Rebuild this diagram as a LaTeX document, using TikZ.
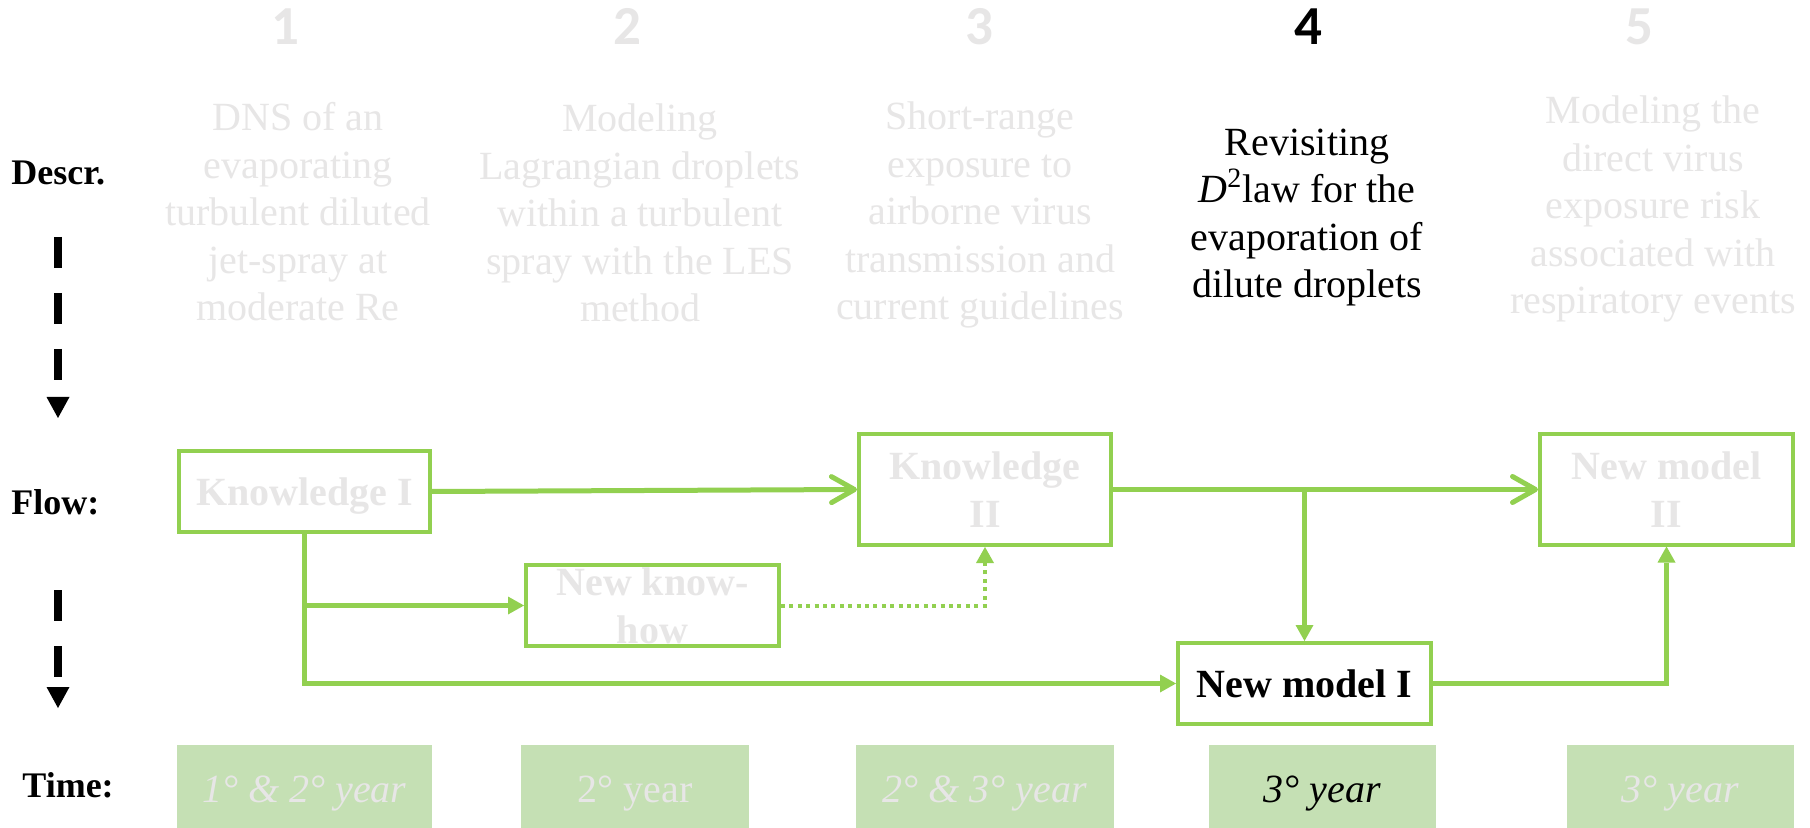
\documentclass[tikz,border=0pt]{standalone}
\usepackage{fontspec}
\setmainfont{Liberation Serif}
\newfontfamily\numfont{Carlito}
\usetikzlibrary{arrows.meta}
\definecolor{flowgreen}{HTML}{92D050}
\definecolor{timefill}{HTML}{C5E0B4}
\definecolor{faded}{HTML}{E7E6E6}

\tikzset{
  flowbox/.style={draw=flowgreen, line width=2pt, fill=white, inner sep=0pt, align=center,
    font=\bfseries\fontsize{20}{24}\selectfont, text=faded},
  timebox/.style={fill=timefill, inner sep=0pt, minimum height=41.5pt,
    text height=16pt, text depth=0pt,
    font=\fontsize{20}{24}\selectfont, text=faded},
  % multi-line blocks sit on the baseline of their last line
  desc/.style={align=center, anchor=base, inner sep=0pt,
    font=\fontsize{20}{23.75}\selectfont, text=faded},
  stepnum/.style={anchor=base, inner sep=0pt,
    font=\numfont\bfseries\fontsize{27.5}{30}\selectfont, text=faded},
  rowlabel/.style={anchor=base west, inner sep=0pt,
    font=\bfseries\fontsize{18}{20}\selectfont},
  link/.style={draw=flowgreen, line width=2.25pt,
    -{Triangle[length=8pt,width=9pt,line width=0pt]}},
  mainlink/.style={draw=flowgreen, line width=2.5pt, line cap=round,
    -{Straight Barb[length=11.5pt,width=13pt,line cap=round,line join=round]}},
  hintlink/.style={draw=flowgreen, line width=2pt, dash pattern=on 2pt off 2.2pt,
    -{Triangle[length=8pt,width=9pt,line width=0pt]}},
  timeline/.style={draw=black, line width=4pt, dash pattern=on 15.5pt off 12.5pt,
    -{Triangle[length=10.5pt,width=11.5pt,line width=0pt]}},
}

\begin{document}
\begin{tikzpicture}[x=0.5pt, y=-0.5pt]
  \useasboundingbox (0,0) rectangle (1810,828);
  \fill[white] (0,0) rectangle (1810,828);

  % step numbers
  \node[stepnum] (n1) at (285,45) {1};
  \node[stepnum] (n2) at (627,45) {2};
  \node[stepnum] (n3) at (979,45) {3};
  \node[stepnum, text=black] (n4) at (1308,45) {4};
  \node[stepnum] (n5) at (1639,45) {5};

  % row labels
  \node[rowlabel] (ldescr) at (11,185) {Descr.};
  \node[rowlabel] (lflow) at (11,515) {Flow:};
  \node[rowlabel] (ltime) at (22,797) {Time:};

  % downward timeline markers
  \coordinate (ta) at (58,237);
  \coordinate (tb) at (58,418);
  \coordinate (tc) at (58,590);
  \coordinate (td) at (58,708);
  \draw[timeline] (ta) -- (tb);
  \draw[timeline] (tc) -- (td);

  % descriptions
  \node[desc] (d1) at (298,321) {DNS of an\\evaporating\\turbulent diluted\\jet-spray at\\moderate Re};
  \node[desc] (d2) at (640,322) {Modeling\\Lagrangian droplets\\within a turbulent\\spray with the LES\\method};
  \node[desc] (d3) at (980,320) {Short-range\\exposure to\\airborne virus\\transmission and\\current guidelines};
  \node[desc, text=black] (d4) at (1307,298) {Revisiting\\\textit{D}\textsuperscript{2}law for the\\evaporation of\\dilute droplets};
  \node[desc] (d5) at (1653,314) {Modeling the\\direct virus\\exposure risk\\associated with\\respiratory events};

  % flow boxes
  \node[flowbox, minimum width=125.5pt, minimum height=40.5pt, text depth=0pt] (k1) at (304.5,491.5) {Knowledge I};
  \node[flowbox, minimum width=126pt, minimum height=55.5pt] (k2) at (985,489.5) {Knowledge\\II};
  \node[flowbox, minimum width=126.5pt, minimum height=55pt] (nm2) at (1666.5,489.5) {New model\\II};
  \node[flowbox, minimum width=126.5pt, minimum height=40.5pt] (nkh) at (652.5,605.5) {New know-\\how};
  \node[flowbox, minimum width=126.5pt, minimum height=40.5pt, text=black] (nm1) at (1304.5,683.5) {New model I};

  % connectors
  \draw[mainlink] (k1.east) -- (k2.west);
  \draw[link] (k1.south) |- (nkh.west);
  \draw[link] (k1.south) |- (nm1.west);
  \draw[hintlink] (nkh.east) -| (k2.south);
  \draw[link] (k2.east) -| (nm1.north);
  \draw[mainlink] (k2.east) -- (nm2.west);
  \draw[link] (nm1.east) -| (nm2.south);

  % time slots
  \node[timebox, minimum width=127.5pt] (t1) at (304.5,786.5) {\textit{1° \& 2° year}};
  \node[timebox, minimum width=114pt] (t2) at (635,786.5) {2° year};
  \node[timebox, minimum width=129pt] (t3) at (985,786.5) {\textit{2° \& 3° year}};
  \node[timebox, minimum width=113.5pt, text=black] (t4) at (1322.5,786.5) {\textit{3° year}};
  \node[timebox, minimum width=113.5pt] (t5) at (1680.5,786.5) {\textit{3° year}};
\end{tikzpicture}
\end{document}
